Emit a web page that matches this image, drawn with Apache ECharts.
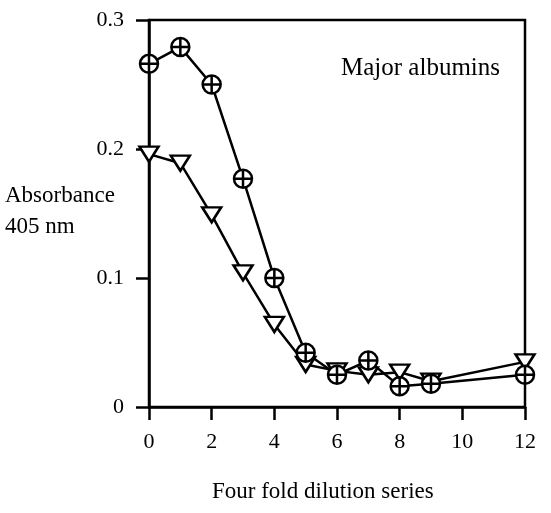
<!DOCTYPE html>
<html>
<head>
<meta charset="utf-8">
<script src="https://cdn.jsdelivr.net/npm/echarts@6/dist/echarts.min.js"></script>
<style>html,body{margin:0;padding:0;background:#fff}#c{width:551px;height:513px}</style>
</head>
<body>
<div id="c"></div>
<script>
const xValues = [0, 1, 2, 3, 4, 5, 6, 7, 8, 9, 12];
const circleValues = [0.266, 0.279, 0.250, 0.177, 0.100, 0.042, 0.025, 0.036, 0.016, 0.018, 0.025];
const triangleValues = [0.196, 0.189, 0.149, 0.104, 0.064, 0.033, 0.028, 0.025, 0.027, 0.020, 0.035];
const yTickLabels = ['0', '0.1', '0.2', '0.3'];
const xTitle = 'Four fold dilution series';
const yTitleLines = ['Absorbance', '405 nm'];
const annotation = 'Major albumins';

const FONT = 'Liberation Serif';
const pair = (xs, ys) => xs.map((x, i) => [x, ys[i]]);

const chart = echarts.init(document.getElementById('c'), null, {renderer: 'canvas'});
chart.setOption({
  animation: false,
  backgroundColor: '#fff',
  grid: {left: 149, top: 20, right: 26, bottom: 106, show: true, borderColor: '#000', borderWidth: 2.5, backgroundColor: 'transparent'},
  xAxis: {
    type: 'value', min: 0, max: 12, interval: 2,
    axisLine: {lineStyle: {color: '#000', width: 2.5}},
    axisTick: {inside: false, length: 13, lineStyle: {color: '#000', width: 2.5}},
    axisLabel: {color: '#000', fontFamily: FONT, fontSize: 22, margin: 24},
    splitLine: {show: false}
  },
  yAxis: {
    type: 'value', min: 0, max: 0.3, interval: 0.1,
    axisLine: {show: true, lineStyle: {color: '#000', width: 2.5}},
    axisTick: {show: true, inside: false, length: 13, lineStyle: {color: '#000', width: 2.5}},
    axisLabel: {color: '#000', fontFamily: FONT, fontSize: 22, margin: 25,
      formatter: v => yTickLabels[Math.round(v * 10)]},
    splitLine: {show: false}
  },
  series: [
    {
      type: 'line', data: pair(xValues, triangleValues), z: 2,
      symbol: 'path://M0,14L-9,0L9,0Z', symbolSize: [19, 15],
      lineStyle: {color: '#000', width: 2.5},
      itemStyle: {color: '#fff', borderColor: '#000', borderWidth: 2.5}
    },
    {
      type: 'line', data: pair(xValues, circleValues), z: 3,
      symbol: 'path://M0,-10A10,10,0,1,1,0,10A10,10,0,1,1,0,-10ZM-10,0L10,0M0,-10L0,10', symbolSize: 18,
      lineStyle: {color: '#000', width: 2.5},
      itemStyle: {color: '#fff', borderColor: '#000', borderWidth: 2.5}
    }
  ],
  graphic: [
    {type: 'text', left: 341, top: 56, style: {text: annotation, font: '25px "' + FONT + '"', fill: '#000'}},
    {type: 'text', left: 5, top: 184, style: {text: yTitleLines[0], font: '23px "' + FONT + '"', fill: '#000'}},
    {type: 'text', left: 5, top: 215, style: {text: yTitleLines[1], font: '23px "' + FONT + '"', fill: '#000'}},
    {type: 'text', left: 212, top: 480, style: {text: xTitle, font: '23px "' + FONT + '"', fill: '#000'}}
  ]
});
</script>
</body>
</html>
